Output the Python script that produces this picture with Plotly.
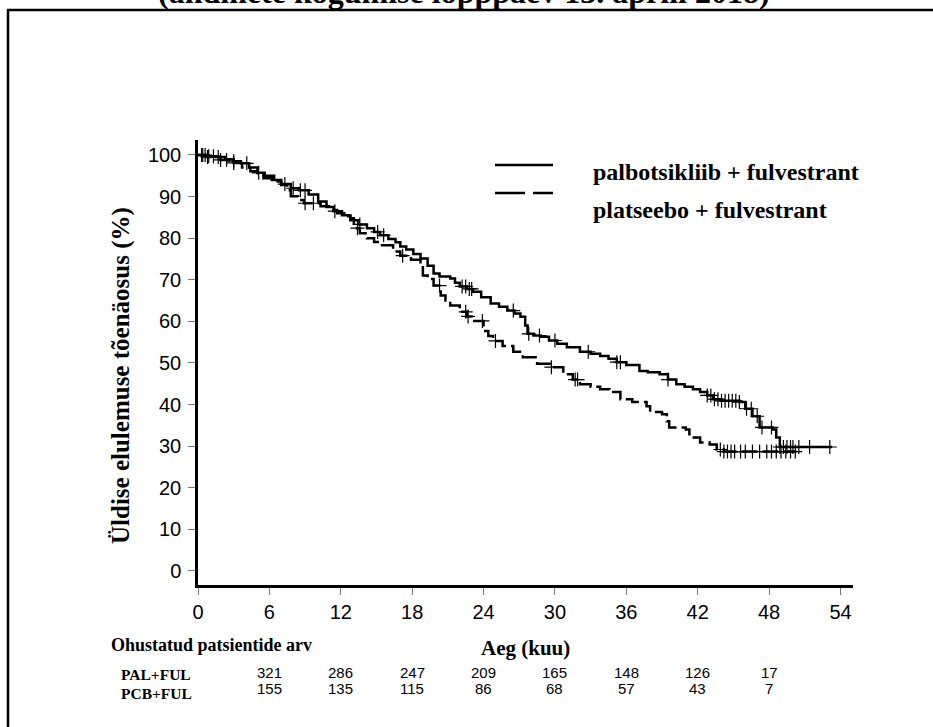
import numpy as np
import plotly.graph_objects as go

# ---------------- data ----------------
pal_t = [0, 0.8, 1.5, 2.3, 3.0, 3.6, 4.3, 5.0, 5.6, 6.4, 7.0, 7.8, 8.5, 9.3, 10.1, 10.8, 11.4, 12.1,
         12.8, 13.5, 14.2, 14.8, 15.3, 16.0, 16.6, 17.0, 17.5, 18.1, 18.7, 19.3, 19.8, 20.3, 21.2, 21.6,
         22.0, 22.6, 23.1, 23.8, 24.6, 25.3, 26.0, 26.6, 27.1, 27.5, 27.7, 28.2, 28.8, 29.5, 30.2, 31.0,
         32.1, 33.0, 33.8, 34.5, 35.2, 36.0, 37.1, 37.8, 38.8, 39.5, 40.2, 40.9, 41.6, 42.2, 42.8, 43.3,
         44.0, 45.5, 46.0, 46.6, 47.2, 48.3, 48.6, 48.9, 53.3]
pal_s = [100, 99.7, 99.5, 99.0, 98.5, 98.0, 97.0, 95.7, 95.0, 94.0, 93.0, 92.0, 91.5, 90.5, 88.8, 87.5,
         86.5, 85.5, 84.3, 83.3, 82.4, 81.5, 80.7, 79.8, 79.0, 78.0, 77.3, 76.2, 75.1, 73.4, 71.5, 70.8,
         70.3, 69.3, 68.4, 67.8, 67.1, 65.8, 64.3, 63.5, 62.6, 61.9, 61.1, 59.0, 57.0, 56.6, 56.3, 55.4,
         54.6, 53.8, 52.7, 52.2, 51.7, 51.0, 50.2, 49.5, 48.1, 47.8, 47.3, 46.0, 44.9, 44.3, 43.7, 43.0,
         42.2, 41.3, 40.9, 40.6, 39.0, 37.2, 34.5, 34.0, 32.1, 29.8, 29.8]

pcb_t = [0, 0.8, 1.9, 3.0, 3.7, 4.4, 5.0, 5.5, 6.2, 7.0, 7.5, 7.8, 8.4, 8.9, 10.3, 11.0, 11.7, 12.3,
         12.8, 13.1, 13.6, 14.2, 14.8, 15.3, 16.4, 17.0, 17.9, 18.7, 18.9, 19.3, 19.8, 20.4, 20.8, 21.2,
         22.0, 22.6, 23.1, 24.0, 24.4, 24.8, 25.6, 26.5, 27.3, 28.5, 29.6, 30.7, 31.5, 32.1, 33.0, 33.8,
         34.6, 35.5, 36.5, 37.7, 38.0, 39.0, 39.4, 39.6, 41.0, 41.3, 42.2, 43.0, 43.6, 44.2, 50.3]
pcb_s = [100, 99.5, 98.8, 98.1, 97.0, 96.1, 95.2, 94.4, 93.6, 92.8, 91.5, 90.1, 89.2, 88.4, 87.7, 86.8,
         86.0, 85.3, 84.8, 82.4, 81.2, 80.0, 79.1, 78.3, 76.8, 75.8, 74.8, 73.9, 71.0, 70.2, 68.6, 66.2,
         65.0, 63.8, 62.3, 61.2, 60.1, 57.7, 56.5, 55.3, 54.1, 52.7, 51.4, 49.8, 49.0, 47.3, 46.0, 44.9,
         44.3, 43.7, 43.0, 41.3, 40.6, 39.6, 38.2, 37.7, 36.0, 34.5, 34.0, 32.1, 30.9, 30.4, 29.2, 28.7,
         28.7]

pal_cens = [0.3, 0.6, 0.9, 1.3, 1.7, 3.0, 4.1, 5.1, 7.3, 8.0, 8.6, 9.0, 11.5, 13.6, 15.1, 15.6, 22.2,
            22.5, 22.8, 23.0, 26.5, 27.8, 28.7, 30.0, 32.8, 35.2, 35.5, 39.5, 42.8, 43.1, 43.4, 43.7,
            44.0, 44.3, 44.6, 44.9, 45.2, 45.5, 46.1, 46.5, 47.0, 47.4, 48.2, 48.9, 49.2, 49.5, 49.8,
            50.0, 50.5, 51.4, 53.1]
pcb_cens = [0.4, 0.8, 1.9, 2.4, 3.0, 9.0, 9.7, 13.4, 17.2, 20.3, 22.5, 22.7, 23.9, 25.0, 29.7, 31.7,
            31.9, 43.9, 44.2, 44.5, 44.8, 45.1, 45.6, 46.0, 46.6, 47.2, 47.8, 48.2, 48.6, 49.0, 49.4,
            49.8, 50.2]

x_ticks = [0, 6, 12, 18, 24, 30, 36, 42, 48, 54]
y_ticks = [0, 10, 20, 30, 40, 50, 60, 70, 80, 90, 100]

risk_pos = [6, 12, 18, 24, 30, 36, 42, 48]
pal_risk = [321, 286, 247, 209, 165, 148, 126, 17]
pcb_risk = [155, 135, 115, 86, 68, 57, 43, 7]

pal_label = "palbotsikliib + fulvestrant"
pcb_label = "platseebo + fulvestrant"


def step_at(ts, ss, q):
    ts = np.asarray(ts)
    ss = np.asarray(ss)
    idx = np.searchsorted(ts, np.asarray(q), side="right") - 1
    return ss[np.clip(idx, 0, len(ss) - 1)]


SERIF = "Liberation Serif, Times New Roman, serif"
SANS = "Liberation Sans, Arial, sans-serif"

fig = go.Figure()
fig.add_trace(go.Scatter(x=pal_t, y=pal_s, mode="lines", line=dict(shape="hv", color="black", width=2.5),
                         name=pal_label, showlegend=False))
fig.add_trace(go.Scatter(x=pcb_t, y=pcb_s, mode="lines",
                         line=dict(shape="hv", color="black", width=2.5, dash="16px,5px"),
                         name=pcb_label, showlegend=False))
fig.add_trace(go.Scatter(x=pal_cens, y=step_at(pal_t, pal_s, pal_cens), mode="markers",
                         marker=dict(symbol="cross-thin", size=10, line=dict(width=1.2, color="black")),
                         showlegend=False))
fig.add_trace(go.Scatter(x=pcb_cens, y=step_at(pcb_t, pcb_s, pcb_cens), mode="markers",
                         marker=dict(symbol="cross-thin", size=10, line=dict(width=1.2, color="black")),
                         showlegend=False))

L, R, T, B = 198, 80, 140, 142
W, H = 933, 727
pw, ph = W - L - R, H - T - B


def px(xp):
    return (xp - L) / pw


def py(yp):
    return (H - B - yp) / ph


shapes = []
# outer frame
shapes.append(dict(type="rect", xref="paper", yref="paper", x0=px(8), x1=px(945), y0=py(745), y1=py(10),
                   line=dict(color="black", width=2.5), fillcolor="rgba(0,0,0,0)"))
# legend samples
shapes.append(dict(type="line", xref="paper", yref="paper", x0=px(495), x1=px(553), y0=py(165), y1=py(165),
                   line=dict(color="black", width=2.7)))
shapes.append(dict(type="line", xref="paper", yref="paper", x0=px(495), x1=px(553), y0=py(193), y1=py(193),
                   line=dict(color="black", width=2.7, dash="30px,8px")))

ann = []
ann.append(dict(text="<b>(andmete kogumise lõpppäev 13. aprill 2018)</b>", xref="paper", yref="paper",
                x=px(464), y=py(-8), xanchor="center", yanchor="middle", showarrow=False,
                font=dict(family=SERIF, size=32, color="black")))
ann.append(dict(text="<b>" + pal_label + "</b>", xref="paper", yref="paper", x=px(591), y=py(172),
                xanchor="left", yanchor="middle", showarrow=False, font=dict(family=SERIF, size=24, color="black")))
ann.append(dict(text="<b>" + pcb_label + "</b>", xref="paper", yref="paper", x=px(591), y=py(210),
                xanchor="left", yanchor="middle", showarrow=False, font=dict(family=SERIF, size=24, color="black")))
ann.append(dict(text="<b>Üldise elulemuse tõenäosus (%)</b>", xref="paper", yref="paper", x=px(121), y=py(376),
                xanchor="center", yanchor="middle", textangle=-90, showarrow=False,
                font=dict(family=SERIF, size=25, color="black")))
ann.append(dict(text="<b>Ohustatud patsientide arv</b>", xref="paper", yref="paper", x=px(109), y=py(645),
                xanchor="left", yanchor="middle", showarrow=False, font=dict(family=SERIF, size=18, color="black")))
ann.append(dict(text="<b>Aeg (kuu)</b>", xref="paper", yref="paper", x=px(525), y=py(648),
                xanchor="center", yanchor="middle", showarrow=False, font=dict(family=SERIF, size=21, color="black")))
ann.append(dict(text="<b>PAL+FUL</b>", xref="paper", yref="paper", x=px(119), y=py(674),
                xanchor="left", yanchor="middle", showarrow=False, font=dict(family=SERIF, size=15.5, color="black")))
ann.append(dict(text="<b>PCB+FUL</b>", xref="paper", yref="paper", x=px(119), y=py(693),
                xanchor="left", yanchor="middle", showarrow=False, font=dict(family=SERIF, size=15.5, color="black")))
for xv, v in zip(risk_pos, pal_risk):
    ann.append(dict(text=str(v), xref="x", yref="paper", x=xv, y=py(672), xanchor="center", yanchor="middle",
                    showarrow=False, font=dict(family=SANS, size=15, color="black")))
for xv, v in zip(risk_pos, pcb_risk):
    ann.append(dict(text=str(v), xref="x", yref="paper", x=xv, y=py(688), xanchor="center", yanchor="middle",
                    showarrow=False, font=dict(family=SANS, size=15, color="black")))

fig.update_layout(
    width=W, height=H, margin=dict(l=L, r=R, t=T, b=B, pad=0),
    paper_bgcolor="white", plot_bgcolor="white",
    shapes=shapes, annotations=ann, showlegend=False,
    xaxis=dict(range=[0, 55.05], tickvals=x_ticks, ticktext=[str(v) for v in x_ticks],
               showline=True, linewidth=2.5, linecolor="black", ticks="outside", ticklen=7,
               tickcolor="#777", tickwidth=1.2, showgrid=False, zeroline=False,
               tickfont=dict(family=SANS, size=20, color="black")),
    yaxis=dict(range=[-3.37, 103.6], tickvals=y_ticks, ticktext=[str(v) for v in y_ticks],
               showline=True, linewidth=2.5, linecolor="black", ticks="outside", ticklen=7,
               tickcolor="#777", tickwidth=1.2, showgrid=False, zeroline=False, ticklabelstandoff=3,
               tickfont=dict(family=SANS, size=20, color="black")),
)

fig.write_html("out.html")
